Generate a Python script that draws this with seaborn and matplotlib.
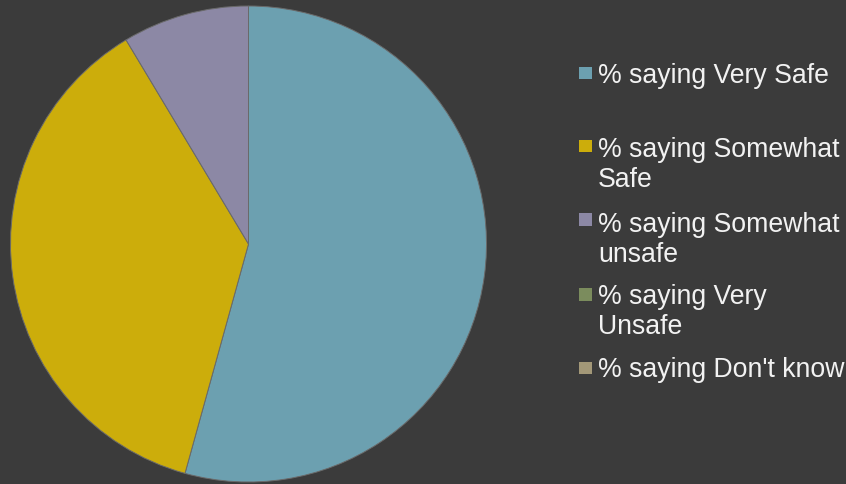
import matplotlib
matplotlib.use("Agg")
import matplotlib.pyplot as plt
from matplotlib.patches import Rectangle
import seaborn as sns

categories = ["% saying Very Safe", "% saying Somewhat Safe", "% saying Somewhat unsafe",
              "% saying Very Unsafe", "% saying Don't know"]
legend_labels = ["% saying Very Safe", "% saying Somewhat\nSafe", "% saying Somewhat\nunsafe",
                 "% saying Very\nUnsafe", "% saying Don't know"]
values = [54.3, 37.1, 8.6, 0.0, 0.0]
colors = ["#6CA0B0", "#CCAD0B", "#8C88A5", "#7B8C5D", "#A39878"]

BG = "#3B3B3B"
sns.set_theme(style="dark", rc={"figure.facecolor": BG, "axes.facecolor": BG,
                                "savefig.facecolor": BG})
plt.rcParams["font.family"] = ["Liberation Sans", "DejaVu Sans"]
palette = sns.color_palette(colors)

W, H = 846, 485
fig = plt.figure(figsize=(W / 100, H / 100), dpi=100)

cx, cy, r = 248.5, 245.0, 238.0
ax = fig.add_axes([(cx - r) / W, (H - cy - r) / H, 2 * r / W, 2 * r / H])
nz = [i for i, v in enumerate(values) if v > 0]
ax.pie([values[i] for i in nz], colors=[palette[i] for i in nz], startangle=90,
       counterclock=False, radius=1.0,
       wedgeprops=dict(edgecolor="#6A6A6A", linewidth=0.7))
ax.set_xlim(-1.0, 1.0)
ax.set_ylim(-1.0, 1.0)
ax.set_aspect("equal")
ax.axis("off")

# legend overlay in pixel coordinates
lax = fig.add_axes([0, 0, 1, 1], facecolor="none")
lax.set_xlim(0, W)
lax.set_ylim(H, 0)
lax.axis("off")
square_tops = [67.5, 140.5, 214, 289, 362.5]
baselines = [83, 157, 232, 304, 377]
fs = 19.2
for i, lab in enumerate(legend_labels):
    lax.add_patch(Rectangle((579, square_tops[i]), 12.5, 12.5, facecolor=palette[i],
                            edgecolor="none"))
    lines = lab.split("\n")
    lax.text(598, baselines[i], lines[0], fontsize=fs, color="#F2F2F2",
             va="baseline", ha="left")
    if len(lines) > 1:
        lax.text(598, baselines[i] + 30, lines[1], fontsize=fs, color="#F2F2F2",
                 va="baseline", ha="left")

fig.savefig("out.png", dpi=100, facecolor=BG)
